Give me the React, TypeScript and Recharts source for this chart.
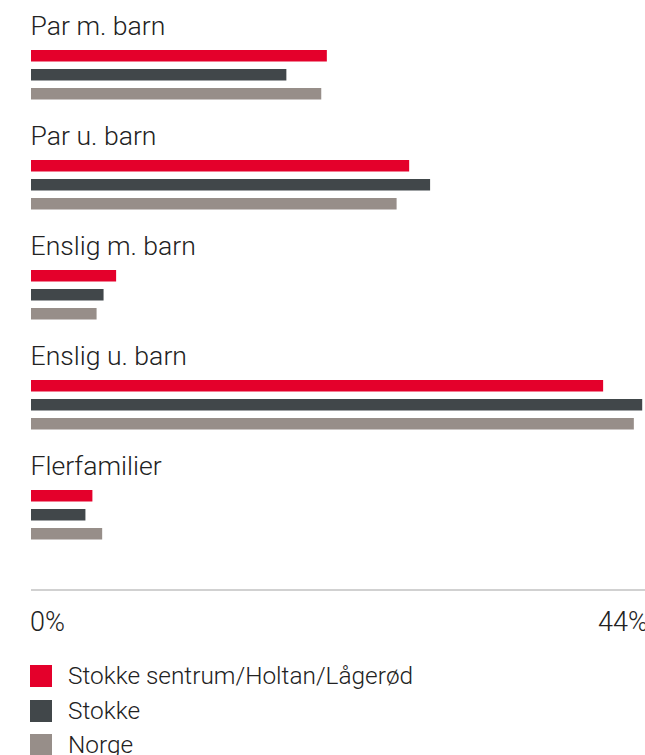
import React from "react";
import { BarChart, Bar, XAxis, YAxis, Legend } from "recharts";

const categories = ["Par m. barn", "Par u. barn", "Enslig m. barn", "Enslig u. barn", "Flerfamilier"];
const sentrumValues = [21.2, 27.1, 6.1, 41.0, 4.4];
const stokkeValues = [18.3, 28.6, 5.2, 43.8, 3.9];
const norgeValues = [20.8, 26.2, 4.7, 43.2, 5.1];
const xTicks = [0, 44];

const SERIES = [
  { key: "sentrum", name: "Stokke sentrum/Holtan/Lågerød", color: "#e4002b" },
  { key: "stokke", name: "Stokke", color: "#41474a" },
  { key: "norge", name: "Norge", color: "#978e89" },
];

const data = categories.map((cat, i) => ({
  category: cat,
  sentrum: sentrumValues[i],
  stokke: stokkeValues[i],
  norge: norgeValues[i],
}));

const FONT = "Roboto, 'Noto Sans', sans-serif";

// category names sit above each group of bars
const CategoryTick = (props: any) => {
  const { x, y, payload } = props;
  return (
    <text x={x - 0.5} y={y - 40} textAnchor="start" fontFamily={FONT} fontWeight={300} fontSize={26.6} fill="#222">
      {payload.value}
    </text>
  );
};

const PercentTick = (props: any) => {
  const { x, y, payload, index } = props;
  return (
    <text
      x={index === 0 ? x - 1 : x + 3}
      y={y + 41}
      textAnchor={index === 0 ? "start" : "end"}
      fontFamily={FONT}
      fontWeight={300}
      fontSize={27}
      fill="#222"
    >
      {`${payload.value}%`}
    </text>
  );
};

const LegendContent = (props: any) => {
  const items = [...(props.payload || [])].sort(
    (a: any, b: any) =>
      SERIES.findIndex((s) => s.name === a.value) - SERIES.findIndex((s) => s.name === b.value)
  );
  return (
    <div style={{ height: 95, paddingTop: 5, boxSizing: "border-box" }}>
      {items.map((item: any) => (
        <div key={item.value} style={{ display: "flex", alignItems: "center", height: 22, marginBottom: 12.5 }}>
          <span style={{ width: 22, height: 22, background: item.color, display: "inline-block", flexShrink: 0 }} />
          <span
            style={{
              marginLeft: 16,
              fontFamily: FONT,
              fontWeight: 300,
              fontSize: 24.4,
              lineHeight: "22px",
              color: "#222",
              whiteSpace: "nowrap",
            }}
          >
            {item.value}
          </span>
        </div>
      ))}
    </div>
  );
};

export default function App() {
  return (
    <div style={{ position: "absolute", left: 0, top: 0, width: 645, height: 755, overflow: "hidden", background: "#fff" }}>
      <BarChart
        width={660}
        height={755}
        data={data}
        layout="vertical"
        margin={{ top: 20, right: 15, bottom: 0, left: 30 }}
        barSize={11.5}
        barGap={7.5}
      >
        <XAxis
          type="number"
          domain={[0, 44]}
          ticks={xTicks}
          height={70}
          tickSize={0}
          tickMargin={0}
          axisLine={{ stroke: "#a3a3a3", strokeWidth: 1 }}
          tickLine={false}
          tick={<PercentTick />}
        />
        <YAxis
          type="category"
          dataKey="category"
          width={1}
          interval={0}
          tickSize={0}
          tickMargin={0}
          padding={{ top: 0, bottom: 20 }}
          axisLine={false}
          tickLine={false}
          tick={<CategoryTick />}
        />
        <Legend verticalAlign="bottom" align="left" layout="horizontal" content={<LegendContent />} />
        {SERIES.map((s) => (
          <Bar key={s.key} dataKey={s.key} name={s.name} fill={s.color} isAnimationActive={false} />
        ))}
      </BarChart>
    </div>
  );
}
